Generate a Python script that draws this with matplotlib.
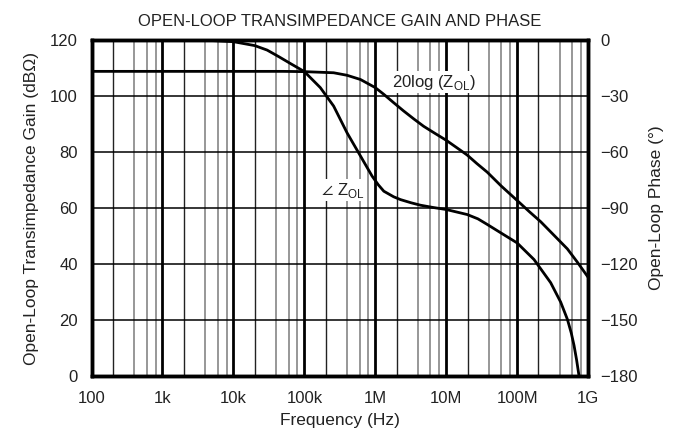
import matplotlib
matplotlib.use("Agg")
import matplotlib.pyplot as plt
from matplotlib.ticker import NullLocator

plt.rcParams['font.family'] = ['Liberation Sans', 'DejaVu Sans']
plt.rcParams['mathtext.fontset'] = 'custom'
plt.rcParams['mathtext.rm'] = 'Liberation Sans'

TXT = '#222222'

# Gain data (dB Ohm)
gain_freq = [100, 1e3, 1e4, 5e4, 1e5, 2.59e5, 4e5, 6.18e5, 1e6, 1.32e6, 1.82e6, 2.5e6, 3.5e6,
             4.8e6, 6.7e6, 1e7, 1.4e7, 1.98e7, 2.7e7, 3.79e7, 6e7, 1e8, 1.5e8, 2.15e8, 3.3e8,
             5.11e8, 7e8, 1e9]
gain_db = [108.8, 108.8, 108.8, 108.8, 108.7, 108.3, 107.4, 105.9, 103.0, 100.6, 97.6, 94.7, 91.8,
           89.2, 86.9, 84.2, 81.6, 78.9, 75.9, 72.8, 67.8, 62.7, 58.6, 55.1, 50.3,
           45.4, 40.8, 35.3]

# Phase data (degrees)
phase_freq = [100, 1e3, 5e3, 1e4, 2e4, 2.99e4, 4.4e4, 6.5e4, 1e5, 1.68e5, 2.59e5, 4e5,
              6.18e5, 9.02e5, 1.1e6, 1.32e6, 1.82e6, 2.27e6, 3.2e6, 4.34e6, 6.5e6, 1e7, 1.98e7,
              2.8e7, 3.79e7, 6e7, 1e8, 1.73e8, 2.97e8, 4.11e8, 5.11e8, 5.8e8, 6.34e8, 6.9e8, 7.46e8]
phase_deg = [0, 0, -0.3, -0.9, -3.0, -5.4, -9.0, -12.8, -16.9, -25.5, -35.4, -49.7,
             -62.1, -72.9, -77.5, -81.0, -84.0, -85.5, -87.2, -88.5, -89.7, -90.8, -93.5,
             -95.8, -98.8, -103.5, -108.7, -117.6, -130.0, -140.4, -149.6, -157.0, -163.6, -171.5, -180.0]

x_ticks = [1e2, 1e3, 1e4, 1e5, 1e6, 1e7, 1e8, 1e9]
x_labels = ['100', '1k', '10k', '100k', '1M', '10M', '100M', '1G']
gain_ticks = [0, 20, 40, 60, 80, 100, 120]
phase_ticks = [-180, -150, -120, -90, -60, -30, 0]
phase_labels = ['\u2212180', '\u2212150', '\u2212120', '\u221290', '\u221260', '\u221230', '0']

fig = plt.figure(figsize=(6.83, 4.43), dpi=100)
ax = fig.add_axes([0.134, 0.1512, 0.727, 0.7585])
ax.set_xscale('log')
ax.set_xlim(1e2, 1e9)
ax.set_ylim(0, 120)

# grid: minor verticals at 2,4,6,8 of each decade
for d in range(2, 9):
    ax.axvline(2 * 10**d, color='#222222', lw=1.0, zorder=1)
    for m in (4, 6, 8):
        ax.axvline(m * 10**d, color='#7a7a7a', lw=1.1, zorder=1)
for d in range(3, 9):
    ax.axvline(10**d, color='black', lw=2.0, zorder=1)
for g in gain_ticks[1:-1]:
    ax.axhline(g, color='black', lw=1.1, zorder=1)

ax.plot(gain_freq, gain_db, color='black', lw=2.0, zorder=3, solid_joinstyle='round')

ax.set_xticks(x_ticks)
ax.set_xticklabels(x_labels)
ax.xaxis.set_minor_locator(NullLocator())
ax.set_yticks(gain_ticks)
ax.tick_params(axis='both', length=0, labelsize=12, labelcolor=TXT)
ax.tick_params(axis='x', pad=11)
ax.tick_params(axis='y', pad=10)
for s in ax.spines.values():
    s.set_linewidth(2.5)

ax2 = ax.twinx()
ax2.set_ylim(-180, 0)
ax2.plot(phase_freq, phase_deg, color='black', lw=2.0, zorder=3, solid_joinstyle='round')
ax2.set_yticks(phase_ticks)
ax2.set_yticklabels(phase_labels)
ax2.tick_params(axis='y', length=0, labelsize=12, labelcolor=TXT, pad=9)
for s in ax2.spines.values():
    s.set_linewidth(2.5)

ax.set_xlabel('Frequency (Hz)', fontsize=12.5, color=TXT, labelpad=5)
ax.set_ylabel('Open-Loop Transimpedance Gain (dB\u03a9)', fontsize=12.5, color=TXT, labelpad=8)
ax2.set_ylabel('Open-Loop Phase (\u00b0)', fontsize=12.5, color=TXT, labelpad=8)
ax.set_title('OPEN-LOOP TRANSIMPEDANCE GAIN AND PHASE', fontsize=12, color=TXT, pad=10)

ax.text(6.7e6, 105, r'20log (Z$_{\mathregular{OL}}$)', fontsize=12, color=TXT, ha='center', va='center',
        bbox=dict(facecolor='white', edgecolor='none', pad=1), zorder=4)
ax.text(3.44e5, 66.4, r'$\angle$ Z$_{\mathregular{OL}}$', fontsize=12, color=TXT, ha='center', va='center',
        bbox=dict(facecolor='white', edgecolor='none', pad=1), zorder=4)

fig.savefig('out.png', dpi=100)
